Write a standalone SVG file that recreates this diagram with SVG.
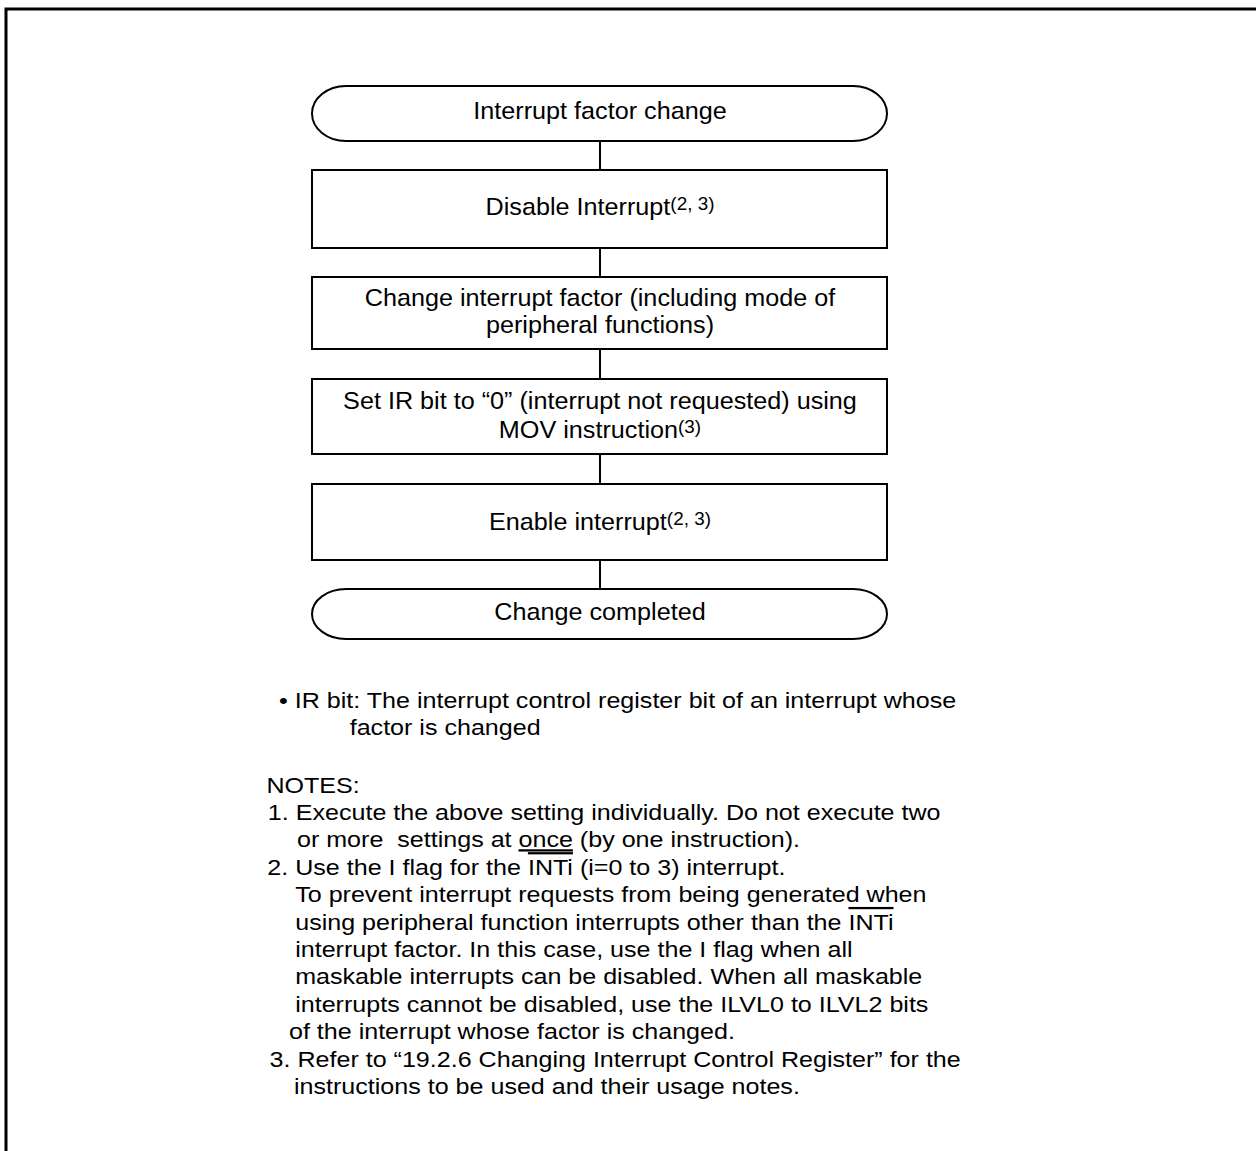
<svg xmlns="http://www.w3.org/2000/svg" width="1256" height="1151" viewBox="0 0 1256 1151">
<style>
  .shape { fill: #ffffff; stroke: #000000; stroke-width: 2; }
  .conn { stroke: #000000; stroke-width: 2; fill: none; }
  .frame { stroke: #000000; stroke-width: 3; fill: none; }
  text { font-family: "Liberation Sans", Arial, sans-serif; fill: #000000; }
  .fc { font-size: 24px; text-anchor: middle; }
  .nt { font-size: 22.5px; }
  .sup { font-size: 18px; }
  .ov { text-decoration: overline; }
  .un { text-decoration: underline; }
</style>
<rect width="1256" height="1151" fill="#ffffff"/>
<path class="frame" d="M6,1151 V9 H1256"/>

<g id="connectors">
  <line class="conn" x1="600" y1="141" x2="600" y2="170"/>
  <line class="conn" x1="600" y1="248" x2="600" y2="277"/>
  <line class="conn" x1="600" y1="349" x2="600" y2="379"/>
  <line class="conn" x1="600" y1="454" x2="600" y2="484"/>
  <line class="conn" x1="600" y1="560" x2="600" y2="589"/>
</g>

<g id="start">
  <rect class="shape" x="312" y="86" width="575" height="55" rx="34" ry="27.5"/>
  <text class="fc" x="600" y="119.5" transform="matrix(1.05,0,0,1,-30,0)">Interrupt factor change</text>
</g>
<g id="disable">
  <rect class="shape" x="312" y="170" width="575" height="78"/>
  <text class="fc" x="600" y="215" transform="matrix(1.05,0,0,1,-30,0)">Disable Interrupt<tspan class="sup" dy="-5">(2, 3)</tspan></text>
</g>
<g id="change">
  <rect class="shape" x="312" y="277" width="575" height="72"/>
  <text class="fc" x="600" y="306" transform="matrix(1.05,0,0,1,-30,0)">Change interrupt factor (including mode of</text>
  <text class="fc" x="600" y="333" transform="matrix(1.05,0,0,1,-30,0)">peripheral functions)</text>
</g>
<g id="setir">
  <rect class="shape" x="312" y="379" width="575" height="75"/>
  <text class="fc" x="600" y="409.5" transform="matrix(1.05,0,0,1,-30,0)">Set IR bit to “0” (interrupt not requested) using</text>
  <text class="fc" x="600" y="438.5" transform="matrix(1.05,0,0,1,-30,0)">MOV instruction<tspan class="sup" dy="-5">(3)</tspan></text>
</g>
<g id="enable">
  <rect class="shape" x="312" y="484" width="575" height="76"/>
  <text class="fc" x="600" y="530" transform="matrix(1.05,0,0,1,-30,0)">Enable interrupt<tspan class="sup" dy="-5">(2, 3)</tspan></text>
</g>
<g id="end">
  <rect class="shape" x="312" y="589" width="575" height="50" rx="34" ry="25"/>
  <text class="fc" x="600" y="620" transform="matrix(1.05,0,0,1,-30,0)">Change completed</text>
</g>

<g id="notes" transform="matrix(1.115,0,0,1,-31.05,0)">
  <text class="nt" x="278.1" y="708">• IR bit: The interrupt control register bit of an interrupt whose</text>
  <text class="nt" x="341.5" y="735">factor is changed</text>
  <text class="nt" x="266.8" y="793">NOTES:</text>
  <text class="nt" x="268.1" y="820">1. Execute the above setting individually. Do not execute two</text>
  <text class="nt" x="294.2" y="847.4" xml:space="preserve">or more  settings at <tspan class="un">once</tspan> (by one instruction).</text>
  <text class="nt" x="267.6" y="874.8">2. Use the I flag for the <tspan class="ov">INTi</tspan> (i=0 to 3) interrupt.</text>
  <text class="nt" x="292.6" y="902.2">To prevent interrupt requests from being generated when</text>
  <text class="nt" x="292.6" y="929.6">using peripheral function interrupts other than the <tspan class="ov">INTi</tspan></text>
  <text class="nt" x="292.6" y="957">interrupt factor. In this case, use the I flag when all</text>
  <text class="nt" x="292.6" y="984.4">maskable interrupts can be disabled. When all maskable</text>
  <text class="nt" x="292.6" y="1011.8">interrupts cannot be disabled, use the ILVL0 to ILVL2 bits</text>
  <text class="nt" x="287" y="1039.2">of the interrupt whose factor is changed.</text>
  <text class="nt" x="269.6" y="1066.6">3. Refer to “19.2.6 Changing Interrupt Control Register” for the</text>
  <text class="nt" x="291.5" y="1094">instructions to be used and their usage notes.</text>
</g>
</svg>
